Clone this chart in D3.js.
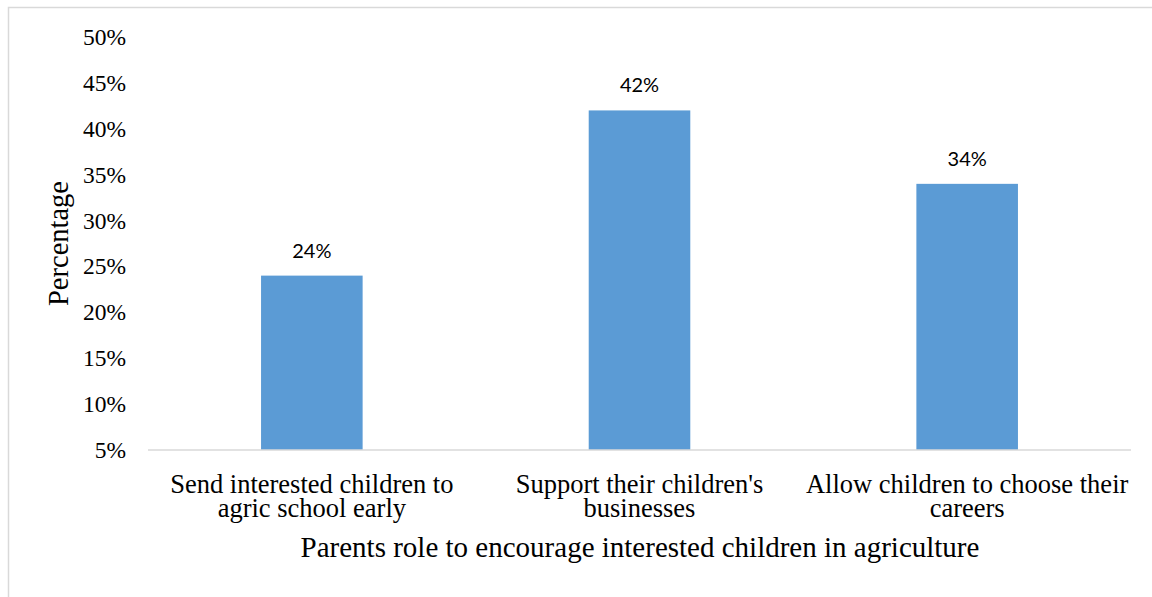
<!DOCTYPE html>
<html>
<head>
<meta charset="utf-8">
<script src="https://cdn.jsdelivr.net/npm/d3@7"></script>
<style>
  html, body { margin: 0; padding: 0; background: #fff; }
  svg { display: block; }
</style>
</head>
<body>
<svg id="chart" width="1152" height="597"></svg>
<script>
// Parents' roles and the share of respondents choosing each
const categories = [
  ["Send interested children to", "agric school early"],
  ["Support their children's", "businesses"],
  ["Allow children to choose their", "careers"]
];
const values = [24, 42, 34];
const yTicks = [5, 10, 15, 20, 25, 30, 35, 40, 45, 50];
const yTitle = "Percentage";
const xTitle = "Parents role to encourage interested children in agriculture";

const svg = d3.select("#chart");
const W = 1152, H = 597;
const plot = { left: 148, right: 1131, top: 37, bottom: 450 };
const serif = "'Liberation Serif', 'Times New Roman', serif";

// outer frame
svg.append("rect")
  .attr("x", 8.5).attr("y", 7.5)
  .attr("width", W + 20).attr("height", H + 20)
  .attr("fill", "none").attr("stroke", "#d9d9d9").attr("stroke-width", 1.5);

const keys = categories.map((c, i) => i);
const x = d3.scaleBand().domain(keys).range([plot.left, plot.right]).paddingInner(0.69).paddingOuter(0.345);
const y = d3.scaleLinear().domain([5, 50]).range([plot.bottom, plot.top]);

// y axis: labels only
const yAxis = d3.axisLeft(y).tickValues(yTicks).tickFormat(d => d + "%").tickSize(0).tickPadding(22);
const gy = svg.append("g").attr("transform", `translate(${plot.left},0)`).call(yAxis);
gy.select(".domain").remove();
gy.selectAll("text")
  .attr("font-family", serif)
  .attr("font-size", 23.5).attr("fill", "#000");

// bars
svg.append("g").selectAll("rect").data(values).join("rect")
  .attr("x", (d, i) => x(i))
  .attr("width", x.bandwidth())
  .attr("y", d => y(d))
  .attr("height", d => y(5) - y(d))
  .attr("fill", "#5b9bd5");

// value labels
svg.append("g").selectAll("text").data(values).join("text")
  .attr("x", (d, i) => x(i) + x.bandwidth() / 2)
  .attr("y", d => y(d) - 18)
  .attr("text-anchor", "middle")
  .attr("font-family", "Lato, 'Liberation Sans', sans-serif")
  .attr("font-size", 20).attr("fill", "#000")
  .text(d => d + "%");

// x axis baseline
const xAxis = d3.axisBottom(x).tickSize(0).tickFormat("");
const gx = svg.append("g").attr("transform", `translate(0,${plot.bottom})`).call(xAxis);
gx.select(".domain").attr("stroke", "#d9d9d9").attr("stroke-width", 1.5)
  .attr("d", `M${plot.left},0H${plot.right}`);

// category labels, one text per line
const catLines = categories.flatMap((lines, i) => lines.map((ln, j) => ({ i, j, ln })));
svg.append("g").selectAll("text").data(catLines).join("text")
  .attr("x", d => x(d.i) + x.bandwidth() / 2)
  .attr("y", d => 493 + d.j * 23.5)
  .attr("text-anchor", "middle")
  .attr("font-family", serif)
  .attr("font-size", 26.5).attr("fill", "#000")
  .text(d => d.ln);

// axis titles
svg.append("text")
  .attr("x", (plot.left + plot.right) / 2 + 0.5)
  .attr("y", 557)
  .attr("text-anchor", "middle")
  .attr("font-family", serif)
  .attr("font-size", 29).attr("fill", "#000")
  .text(xTitle);

svg.append("text")
  .attr("transform", `translate(68,${(plot.top + plot.bottom) / 2}) rotate(-90)`)
  .attr("text-anchor", "middle")
  .attr("font-family", serif)
  .attr("font-size", 28.5).attr("fill", "#000")
  .text(yTitle);
</script>
</body>
</html>
